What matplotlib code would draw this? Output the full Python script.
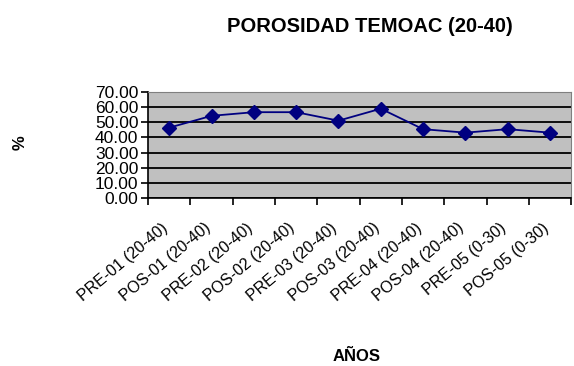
import matplotlib.pyplot as plt
import matplotlib.transforms as mtransforms

# datos
categorias = ['PRE-01 (20-40)', 'POS-01 (20-40)', 'PRE-02 (20-40)', 'POS-02 (20-40)',
              'PRE-03 (20-40)', 'POS-03 (20-40)', 'PRE-04 (20-40)', 'POS-04 (20-40)',
              'PRE-05 (0-30)', 'POS-05 (0-30)']
porosidad = [46.4, 54.2, 56.6, 56.6, 51.0, 58.9, 45.4, 43.1, 45.4, 43.1]
yticks = [0, 10, 20, 30, 40, 50, 60, 70]

plt.rcParams['font.family'] = ['Liberation Sans', 'DejaVu Sans']

fig = plt.figure(figsize=(5.74, 3.66), dpi=100)
ax = fig.add_axes([0.258, 0.459, 0.737, 0.290])
ax.set_facecolor('#C0C0C0')

x = list(range(len(categorias)))
ax.plot(x, porosidad, color='#000080', marker='D', markersize=7.5, linewidth=1.3)

ax.set_xlim(-0.5, len(categorias) - 0.5)
ax.set_ylim(0, 70)
ax.set_yticks(yticks)
ax.set_yticklabels(['%.2f' % v for v in yticks], fontsize=12.5)
ax.yaxis.grid(True, color='black', linewidth=1.3)
ax.set_axisbelow(True)

# ticks entre categorias
ax.set_xticks([i - 0.5 for i in range(len(categorias) + 1)])
ax.set_xticklabels([])
ax.set_xticks(x, minor=True)
ax.set_xticklabels(categorias, minor=True, rotation=40, ha='right', rotation_mode='anchor', fontsize=11.5)
ax.tick_params(axis='x', which='minor', length=0, pad=16)
ax.tick_params(axis='x', which='major', length=5, direction='out', width=1.2)
ax.tick_params(axis='y', length=5, direction='out', pad=2, width=1.2)

# desplazar etiquetas un poco a la izquierda
desp = mtransforms.ScaledTranslation(-8 / 100, 0, fig.dpi_scale_trans)
for lab in ax.get_xticklabels(minor=True):
    lab.set_transform(lab.get_transform() + desp)

for s in ['top', 'right']:
    ax.spines[s].set_color('#808080')
for s in ['left', 'bottom']:
    ax.spines[s].set_linewidth(1.2)

fig.text(0.645, 0.928, 'POROSIDAD TEMOAC (20-40)', ha='center', va='center', fontsize=14.5, fontweight='bold')
fig.text(0.035, 0.61, '%', ha='center', va='center', fontsize=12, fontweight='bold', rotation=90)
fig.text(0.622, 0.027, 'AÑOS', ha='center', va='center', fontsize=12, fontweight='bold')

fig.savefig('out.png', dpi=100)
